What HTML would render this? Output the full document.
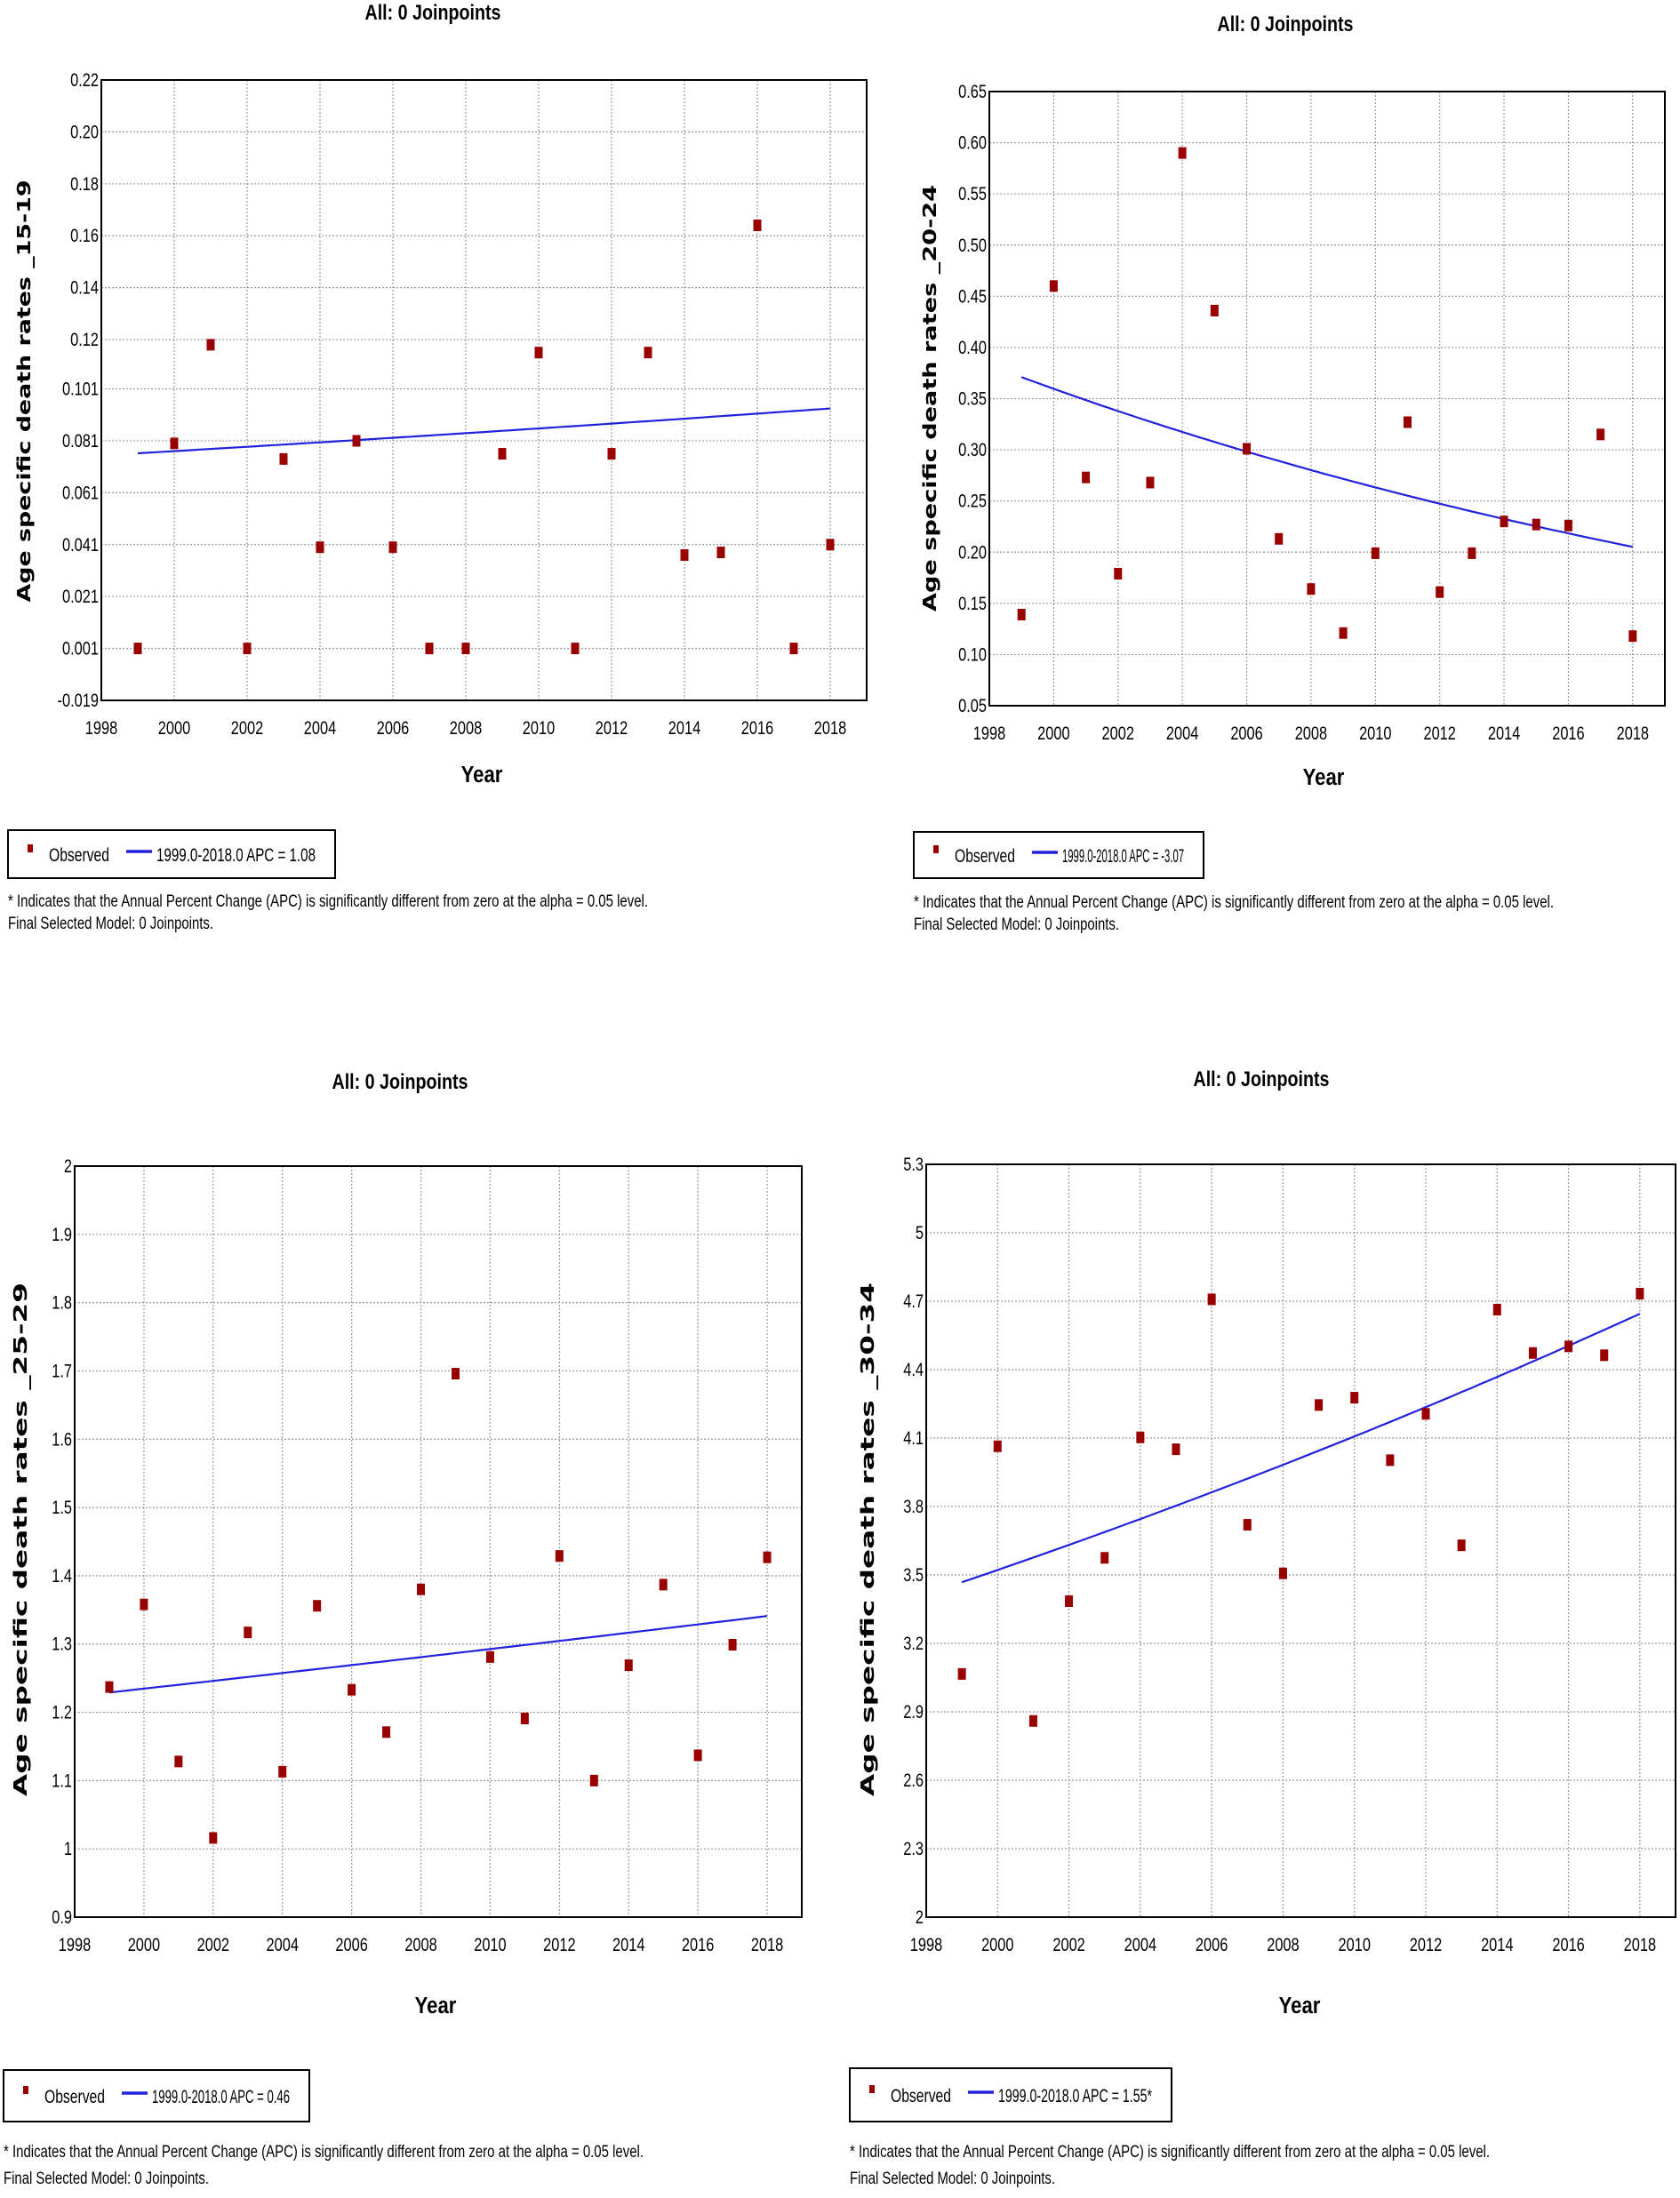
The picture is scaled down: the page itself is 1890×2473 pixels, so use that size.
<!DOCTYPE html>
<html><head><meta charset="utf-8"><style>
html,body{margin:0;padding:0;background:#fff;}
svg{display:block;}
text{font-family:"Liberation Sans Narrow","Liberation Sans",sans-serif;fill:#000;}
.bold{font-weight:bold;}
.yt{font-family:"DejaVu Sans","Liberation Sans",sans-serif;font-weight:bold;}
</style></head><body>
<svg id="root" width="1890" height="2473" viewBox="0 0 1890 2473" xmlns="http://www.w3.org/2000/svg"></svg>
<script>
// ---------- data ----------
const years = [1999,2000,2001,2002,2003,2004,2005,2006,2007,2008,2009,2010,2011,2012,2013,2014,2015,2016,2017,2018];
const xTicks = [1998,2000,2002,2004,2006,2008,2010,2012,2014,2016,2018];

const obs1519 = [0.001,0.080,0.118,0.001,0.074,0.040,0.081,0.040,0.001,0.001,0.076,0.115,0.001,0.076,0.115,0.037,0.038,0.164,0.001,0.041];
const trend1519 = [0.0762, 1.08];
const yTicks1519 = [-0.019,0.001,0.021,0.041,0.061,0.081,0.101,0.12,0.14,0.16,0.18,0.20,0.22];
const yLabels1519 = ["-0.019","0.001","0.021","0.041","0.061","0.081","0.101","0.12","0.14","0.16","0.18","0.20","0.22"];

const obs2024 = [0.139,0.460,0.273,0.179,0.268,0.590,0.436,0.301,0.213,0.164,0.121,0.199,0.327,0.161,0.199,0.230,0.227,0.226,0.315,0.118];
const trend2024 = [0.371, -3.07];
const yTicks2024 = [0.05,0.10,0.15,0.20,0.25,0.30,0.35,0.40,0.45,0.50,0.55,0.60,0.65];
const yLabels2024 = ["0.05","0.10","0.15","0.20","0.25","0.30","0.35","0.40","0.45","0.50","0.55","0.60","0.65"];

const obs2529 = [1.237,1.358,1.128,1.016,1.317,1.113,1.356,1.233,1.171,1.380,1.696,1.281,1.191,1.429,1.100,1.269,1.387,1.137,1.299,1.427];
const trend2529 = [1.229, 0.46];
const yTicks2529 = [0.9,1.0,1.1,1.2,1.3,1.4,1.5,1.6,1.7,1.8,1.9,2.0];
const yLabels2529 = ["0.9","1","1.1","1.2","1.3","1.4","1.5","1.6","1.7","1.8","1.9","2"];

const obs3034 = [3.066,4.064,2.860,3.385,3.575,4.103,4.051,4.708,3.720,3.507,4.245,4.277,4.003,4.206,3.630,4.663,4.473,4.502,4.463,4.733];
const trend3034 = [3.468, 1.55];
const yTicks3034 = [2.0,2.3,2.6,2.9,3.2,3.5,3.8,4.1,4.4,4.7,5.0,5.3];
const yLabels3034 = ["2","2.3","2.6","2.9","3.2","3.5","3.8","4.1","4.4","4.7","5","5.3"];

// ---------- drawing ----------
const NS = "http://www.w3.org/2000/svg";
const root = document.getElementById('root');
function mk(tag, attrs, parent, txt){
  const e = document.createElementNS(NS, tag);
  for (const k in attrs) e.setAttribute(k, attrs[k]);
  if (txt !== undefined) e.textContent = txt;
  (parent||root).appendChild(e);
  return e;
}
// condensed text helper
function ntext(x, y, str, size, anchor, sx, parent, cls){
  const a = {x:0, y:0, 'font-size':size, 'text-anchor':anchor, transform:`translate(${x},${y}) scale(${sx},1)`};
  if (cls) a['class'] = cls;
  return mk('text', a, parent, str);
}

function drawChart(c){
  const g = mk('g', {});
  
  
  const yMin = c.yTicks[0], yMax = c.yTicks[c.yTicks.length-1];
  const xs = v => c.L + (v - 1998) / 21 * (c.R - c.L);
  const ys = v => c.B - (v - yMin) / (yMax - yMin) * (c.B - c.T);

  const t = ntext(c.tx, c.ty, 'All: 0 Joinpoints', 24, 'middle', 0.82, g, 'bold');
  
  

  c.yTicks.forEach((v,i) => {
    const y = ys(v);
    if (i>0 && i<c.yTicks.length-1) {
      const gl = mk('line', {x1:c.L, x2:c.R, y1:y, y2:y, stroke:'#9a9a9a', 'stroke-width':1.2, 'stroke-dasharray':'2,2'}, g);
      
      
    }
    const tl = ntext(c.L-3, y+7, c.yLabels[i], 21, 'end', 0.78, g);
    
    
  });
  xTicks.forEach(v => {
    const x = xs(v);
    if (v > 1998) {
      const gl = mk('line', {x1:x, x2:x, y1:c.T, y2:c.B, stroke:'#9a9a9a', 'stroke-width':1.2, 'stroke-dasharray':'2,2'}, g);
      
      
    }
    const tl = ntext(x, c.B+38, String(v), 21, 'middle', 0.78, g);
    
    
  });
  const fr = mk('rect', {x:c.L, y:c.T, width:c.R-c.L, height:c.B-c.T, fill:'none', stroke:'#000', 'stroke-width':2}, g);
  
  

  const [v0, apc] = c.trend;
  let d = '';
  for (let yr = years[0]; yr <= years[years.length-1] + 1e-9; yr += 0.25) {
    const v = v0 * Math.pow(1 + apc/100, yr - years[0]);
    d += (d ? 'L' : 'M') + xs(yr).toFixed(1) + ',' + ys(v).toFixed(1);
  }
  const tr = mk('path', {d:d, fill:'none', stroke:'#2222dd', 'stroke-width':2.2}, g);
  
  

  c.obs.forEach((v,i) => {
    const p = mk('rect', {x:xs(years[i])-4.5, y:ys(v)-6.5, width:9, height:13, fill:'#990000'}, g);
    
    
  });

  const yt = mk('text', {x:0, y:0, 'text-anchor':'middle', 'font-size':20, class:'yt', textLength:c.ytLen, lengthAdjust:'spacingAndGlyphs', transform:`translate(${c.ytx},${c.yty}) rotate(-90)`}, g, c.ytitle);
  
  
  const xt = ntext(c.xtx, c.xty+9, 'Year', 26, 'middle', 0.85, g, 'bold');
  
  

  const lg = mk('g', {}, g);
  
  
  mk('rect', {x:c.lx, y:c.ly, width:c.lw, height:c.lh, fill:'#fff', stroke:'#000', 'stroke-width':2}, lg);
  const cy = c.ly + c.lh/2;
  const lm = mk('rect', {x:c.lx+22, y:cy-11, width:6, height:9, fill:'#990000'}, lg);
  
  
  const lt1 = mk('text', {x:c.lx+46, y:cy+8, 'font-size':21, textLength:68, lengthAdjust:'spacingAndGlyphs'}, lg, 'Observed');
  
  
  const ll = mk('line', {x1:c.lx+133, x2:c.lx+162, y1:cy-3, y2:cy-3, stroke:'#2222dd', 'stroke-width':3.5}, lg);
  
  
  const lt2 = mk('text', {x:c.lx+167, y:cy+8, 'font-size':21, textLength:c.lw-167-22, lengthAdjust:'spacingAndGlyphs'}, lg, c.legText);
  
  

  const f1 = mk('text', {x:c.lx, y:c.fy1, 'font-size':19, textLength:720, lengthAdjust:'spacingAndGlyphs'}, g, '* Indicates that the Annual Percent Change (APC) is significantly different from zero at the alpha = 0.05 level.');
  
  
  const f2 = mk('text', {x:c.lx, y:c.fy2, 'font-size':19, textLength:231, lengthAdjust:'spacingAndGlyphs'}, g, 'Final Selected Model: 0 Joinpoints.');
  
  
}

drawChart({id:'age-15-19', L:114, R:975, T:90, B:788, obs:obs1519, trend:trend1519, yTicks:yTicks1519, yLabels:yLabels1519,
  tx:487, ty:22, ytitle:'Age specific death rates _15-19', ytx:34, yty:440, ytLen:475, xtx:542, xty:871,
  lx:9, ly:934, lw:368, lh:54, legText:'1999.0-2018.0 APC  = 1.08', fy1:1020, fy2:1045});

drawChart({id:'age-20-24', L:1113, R:1873, T:103, B:794, obs:obs2024, trend:trend2024, yTicks:yTicks2024, yLabels:yLabels2024,
  tx:1446, ty:35, ytitle:'Age specific death rates _20-24', ytx:1053, yty:448, ytLen:480, xtx:1489, xty:874,
  lx:1028, ly:936, lw:326, lh:52, legText:'1999.0-2018.0 APC  = -3.07', fy1:1021, fy2:1046});

drawChart({id:'age-25-29', L:84, R:902, T:1312, B:2157, obs:obs2529, trend:trend2529, yTicks:yTicks2529, yLabels:yLabels2529,
  tx:450, ty:1225, ytitle:'Age specific death rates _25-29', ytx:30, yty:1732, ytLen:578, xtx:490, xty:2256,
  lx:4, ly:2329, lw:344, lh:58, legText:'1999.0-2018.0 APC  = 0.46', fy1:2427, fy2:2457});

drawChart({id:'age-30-34', L:1042, R:1885, T:1310, B:2157, obs:obs3034, trend:trend3034, yTicks:yTicks3034, yLabels:yLabels3034,
  tx:1419, ty:1222, ytitle:'Age specific death rates _30-34', ytx:983, yty:1732, ytLen:578, xtx:1462, xty:2256,
  lx:956, ly:2327, lw:362, lh:60, legText:'1999.0-2018.0 APC  = 1.55*', fy1:2427, fy2:2457});
</script>
</body></html>
